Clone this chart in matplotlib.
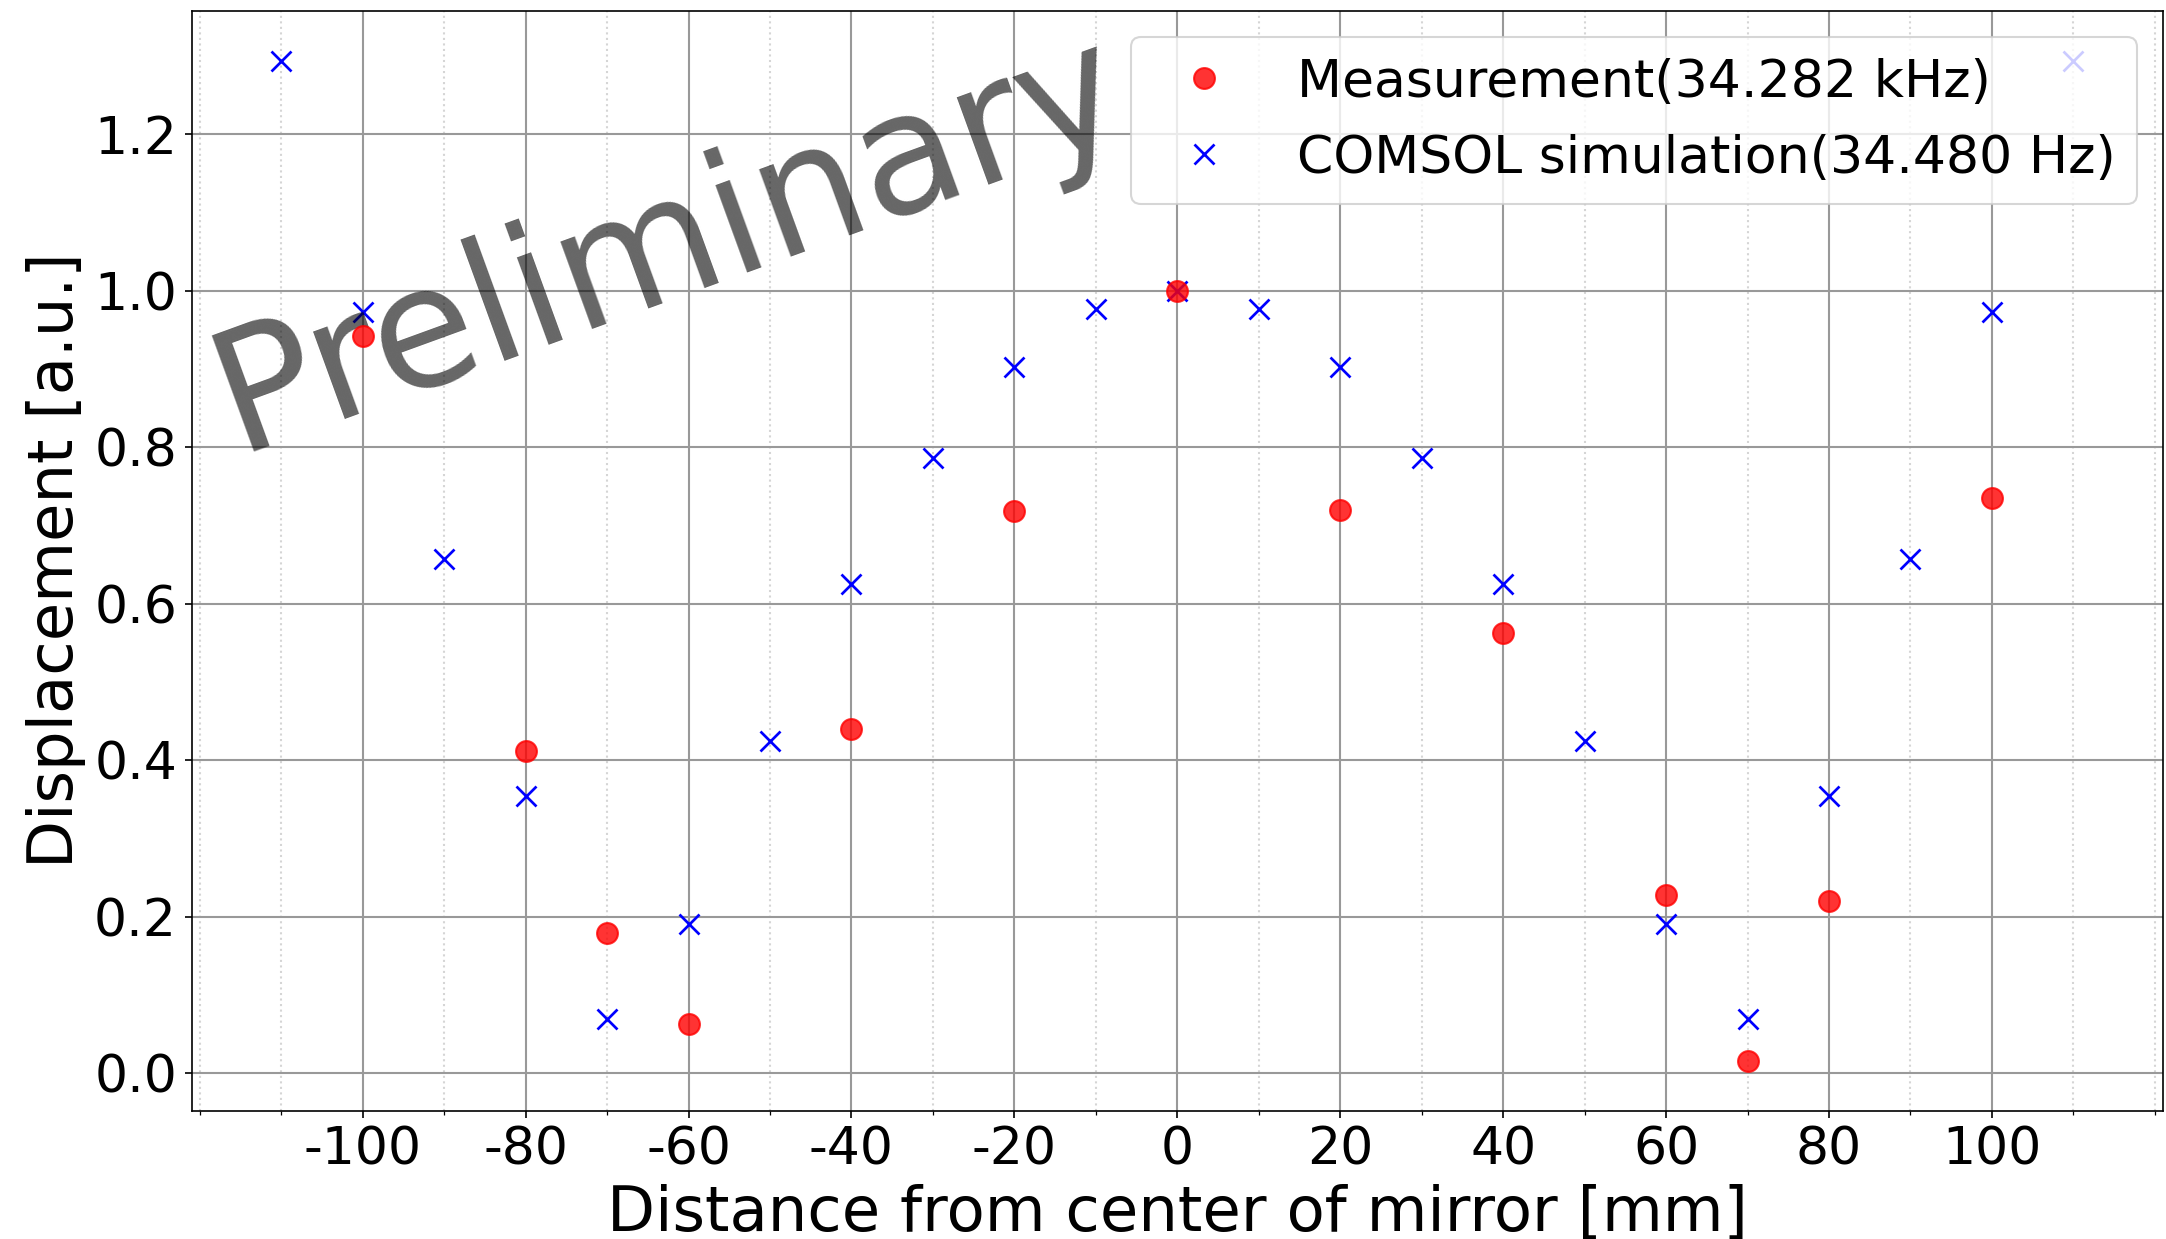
import matplotlib
matplotlib.use('Agg')
import matplotlib.pyplot as plt
from matplotlib.ticker import MultipleLocator

# measured displacement (normalised)
meas_x = [-100, -80, -70, -60, -40, -20, 0, 20, 40, 60, 70, 80, 100]
meas_y = [0.942, 0.412, 0.179, 0.063, 0.440, 0.719, 1.000, 0.720, 0.562,
          0.228, 0.016, 0.220, 0.735]

# COMSOL simulation (normalised)
sim_x = [-110, -100, -90, -80, -70, -60, -50, -40, -30, -20, -10, 0,
         10, 20, 30, 40, 50, 60, 70, 80, 90, 100, 110]
sim_y = [1.294, 0.973, 0.657, 0.354, 0.069, 0.191, 0.424, 0.625, 0.786,
         0.903, 0.976, 1.000, 0.976, 0.903, 0.786, 0.625, 0.424, 0.191,
         0.069, 0.354, 0.657, 0.973, 1.294]

xticks = [-100, -80, -60, -40, -20, 0, 20, 40, 60, 80, 100]

meas_label = 'Measurement(34.282 kHz)'
sim_label = 'COMSOL simulation(34.480 Hz)'

plt.rcParams['axes.unicode_minus'] = False
plt.rcParams['font.family'] = 'DejaVu Sans'

fig = plt.figure(figsize=(14.44, 8.26), dpi=150)
ax = fig.add_subplot(111)
fig.subplots_adjust(left=0.0885, right=0.9986, bottom=0.1036, top=0.9914)

l_sim, = ax.plot(sim_x, sim_y, 'bx', ms=10, mew=1.3, label=sim_label, zorder=2)
l_meas, = ax.plot(meas_x, meas_y, 'ro', ms=10, alpha=0.8, label=meas_label,
                  zorder=4)

# watermark
ax.text(0.2504, 0.7465, 'Preliminary', transform=ax.transAxes, fontsize=81,
        color='k', alpha=0.6, rotation=20, rotation_mode='anchor',
        ha='center', va='baseline', zorder=3)

ax.set_xticks(xticks)
ax.xaxis.set_minor_locator(MultipleLocator(10))
ax.yaxis.set_major_locator(MultipleLocator(0.2))
ax.grid(which='major', color='#999999', linewidth=1.0)
ax.grid(which='minor', axis='x', color='#d5d5d5', linestyle=':', linewidth=1.0)
ax.set_axisbelow(True)

ax.tick_params(labelsize=25)
ax.set_xlabel('Distance from center of mirror [mm]', fontsize=30)
ax.set_ylabel('Displacement [a.u.]', fontsize=30)

ax.legend([l_meas, l_sim], [meas_label, sim_label], loc='upper right',
          fontsize=25)

fig.savefig('out.png', dpi=150)
